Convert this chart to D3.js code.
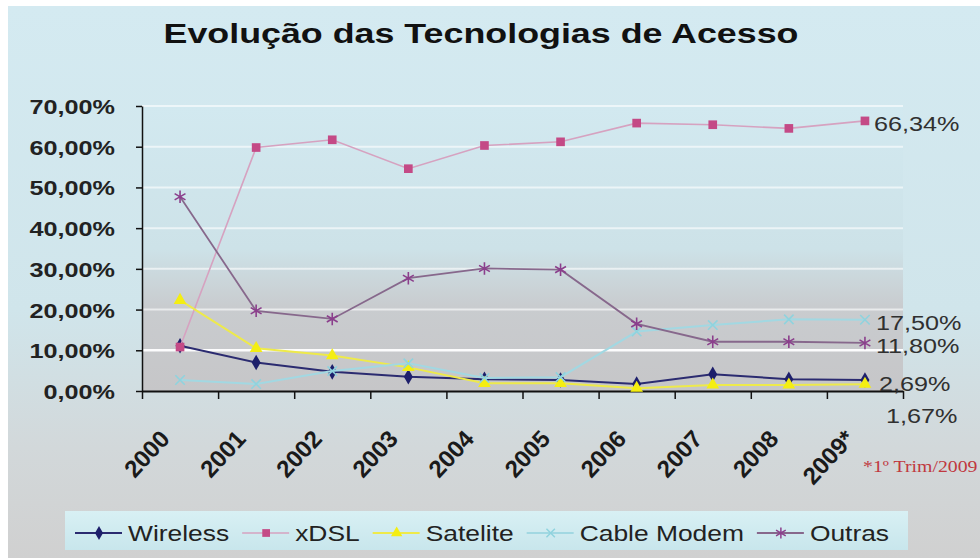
<!DOCTYPE html>
<html lang="pt">
<head>
<meta charset="UTF-8">
<title>Evolução das Tecnologias de Acesso</title>
<script src="https://d3js.org/d3.v7.min.js"></script>
<style>
  body { margin: 0; background: #fff; }
  svg { display: block; font-family: "Liberation Sans", Arial, sans-serif; }
</style>
</head>
<body>
<div id="chart"></div>
<script>
// dados (%)
const years = ["2000", "2001", "2002", "2003", "2004", "2005", "2006", "2007", "2008", "2009*"];
const wireless   = [11.1, 7.0, 4.7, 3.5, 2.9, 2.7, 1.7, 4.1, 2.9, 2.69];
const xdsl       = [10.8, 59.8, 61.7, 54.6, 60.3, 61.2, 65.8, 65.4, 64.5, 66.34];
const satelite   = [22.3, 10.5, 8.7, 5.8, 1.9, 1.9, 0.7, 1.5, 1.5, 1.67];
const cableModem = [2.7, 1.7, 4.9, 6.8, 3.2, 3.4, 14.6, 16.2, 17.6, 17.5];
const outras     = [47.7, 19.7, 17.7, 27.7, 30.1, 29.8, 16.5, 12.1, 12.1, 11.8];
const seriesNames = ["Wireless", "xDSL", "Satelite", "Cable Modem", "Outras"];
const yTicks = [0, 10, 20, 30, 40, 50, 60, 70];

const W = 980, H = 558;
const SX = 1.2; // o original está esticado na horizontal
const plot = { left: 142, right: 903, top: 106, bottom: 391 };

const ptBR = d3.formatLocale({ decimal: ",", thousands: ".", grouping: [3], currency: ["", ""] });
const fmt = v => ptBR.format(".2f")(v) + "%";

const series = [
  { name: seriesNames[0], values: wireless,   line: "#2b2b70", fill: "#1d1f6b", symbol: d3.symbolDiamond,  size: 70, stroke: false, lw: 2 },
  { name: seriesNames[1], values: xdsl,       line: "#d6a2c0", fill: "#c44a86", symbol: d3.symbolSquare,   size: 75, stroke: false, lw: 1.6 },
  { name: seriesNames[2], values: satelite,   line: "#eeea4a", fill: "#f4ee12", symbol: d3.symbolTriangle, size: 70, stroke: false, lw: 2 },
  { name: seriesNames[3], values: cableModem, line: "#a2d8e2", fill: "#8fd3de", symbol: d3.symbolTimes || d3.symbolCross, size: 60, stroke: true, lw: 2 },
  { name: seriesNames[4], values: outras,     line: "#87688c", fill: "#8b3f8c", symbol: d3.symbolAsterisk || d3.symbolCross, size: 110, stroke: true, lw: 1.8 }
];
// posição dos rótulos finais em relação ao último ponto
const labelNudge = {
  "Wireless": [14, 11], "xDSL": [9, 10], "Satelite": [21, 39], "Cable Modem": [11, 10], "Outras": [11, 10]
};

const svg = d3.select("#chart").append("svg")
  .attr("width", W).attr("height", H);

const defs = svg.append("defs");
const bg = defs.append("linearGradient").attr("id", "bg").attr("x1", 0).attr("y1", 0).attr("x2", 0).attr("y2", 1);
[[0, "#d4eaf1"], [0.55, "#d0e5eb"], [0.8, "#d2d8da"], [1, "#d0d0d0"]]
  .forEach(s => bg.append("stop").attr("offset", s[0]).attr("stop-color", s[1]));
const pg = defs.append("linearGradient").attr("id", "pg").attr("x1", 0).attr("y1", 0).attr("x2", 0).attr("y2", 1);
[[0, "#d2e9f0"], [0.5, "#cde2e8"], [0.7, "#c9cccf"], [1, "#c6c6c8"]]
  .forEach(s => pg.append("stop").attr("offset", s[0]).attr("stop-color", s[1]));
const lg = defs.append("linearGradient").attr("id", "lg").attr("x1", 0).attr("y1", 0).attr("x2", 0).attr("y2", 1);
[[0, "#d8f0f4"], [1, "#c8e6ec"]]
  .forEach(s => lg.append("stop").attr("offset", s[0]).attr("stop-color", s[1]));

svg.append("rect").attr("x", 8).attr("y", 6).attr("width", W - 8).attr("height", H - 6).attr("fill", "url(#bg)");

// escalas
const x = d3.scaleBand().domain(years).range([plot.left, plot.right]).padding(0);
const cx = d => x(d) + x.bandwidth() / 2;
const y = d3.scaleLinear().domain([0, 70]).range([plot.bottom, plot.top]);

svg.append("rect")
  .attr("x", plot.left).attr("y", plot.top)
  .attr("width", plot.right - plot.left).attr("height", plot.bottom - plot.top)
  .attr("fill", "url(#pg)");

// linhas de grade
svg.append("g").selectAll("line").data(yTicks.slice(1)).join("line")
  .attr("x1", plot.left).attr("x2", plot.right)
  .attr("y1", d => y(d)).attr("y2", d => y(d))
  .attr("stroke", "#fff")
  .attr("stroke-width", d => d === 10 ? 2.5 : 2)
  .attr("stroke-opacity", d => d === 10 ? 0.95 : 0.6);

// título
svg.append("text")
  .attr("transform", `translate(481,43) scale(1.28,1)`)
  .attr("text-anchor", "middle")
  .attr("font-size", 28).attr("font-weight", "bold").attr("fill", "#111")
  .text("Evolução das Tecnologias de Acesso");

// eixo Y
const yAxis = svg.append("g")
  .attr("transform", `translate(${plot.left},0)`)
  .call(d3.axisLeft(y).tickValues(yTicks).tickSize(6).tickSizeOuter(0).tickFormat(fmt));
yAxis.select(".domain").attr("stroke", "#111").attr("stroke-width", 1.5);
yAxis.selectAll(".tick line").attr("stroke", "#111").attr("stroke-width", 1.5);
yAxis.selectAll(".tick text")
  .attr("x", null).attr("dy", "0.36em")
  .attr("transform", `translate(-27,0) scale(${SX},1)`)
  .attr("font-size", 21).attr("font-weight", "bold").attr("fill", "#222")
  .attr("font-family", "'Liberation Sans', Arial, sans-serif");

// eixo X (marcas nos limites das categorias)
const xEdge = d3.scaleLinear().domain([0, years.length]).range([plot.left, plot.right]);
const xAxis = svg.append("g")
  .attr("transform", `translate(0,${plot.bottom})`)
  .call(d3.axisBottom(xEdge).tickValues(d3.range(years.length + 1)).tickSize(8).tickSizeOuter(0).tickFormat(""));
xAxis.select(".domain").attr("stroke", "#111").attr("stroke-width", 2);
xAxis.selectAll(".tick line").attr("stroke", "#111").attr("stroke-width", 1.5);

svg.append("g").selectAll("text").data(years).join("text")
  .attr("transform", d => `translate(${cx(d) - 9},440) rotate(-47)`)
  .attr("text-anchor", "end")
  .attr("font-size", 24).attr("font-weight", "bold").attr("fill", "#1a1a1a")
  .text(d => d);

// séries
const lineGen = d3.line().x((v, i) => cx(years[i])).y(v => y(v));
series.forEach(s => {
  const g = svg.append("g");
  g.append("path").attr("d", lineGen(s.values))
    .attr("fill", "none").attr("stroke", s.line).attr("stroke-width", s.lw);
  g.selectAll("path.m").data(s.values).join("path").attr("class", "m")
    .attr("transform", (v, i) => `translate(${cx(years[i])},${y(v)})`)
    .attr("d", d3.symbol(s.symbol, s.size))
    .attr("fill", s.stroke ? "none" : s.fill)
    .attr("stroke", s.stroke ? s.fill : "none")
    .attr("stroke-width", 1.6);
});

// rótulos do último ponto
const last = years.length - 1;
svg.append("g").selectAll("text").data(series).join("text")
  .attr("transform", s => `translate(${cx(years[last]) + labelNudge[s.name][0]},${y(s.values[last]) + labelNudge[s.name][1]}) scale(${SX},1)`)
  .attr("font-size", 21).attr("fill", "#303030")
  .text(s => fmt(s.values[last]));

// nota
svg.append("text")
  .attr("transform", `translate(863,472) scale(${SX},1)`)
  .attr("font-family", "'Liberation Serif', 'Times New Roman', serif")
  .attr("font-size", 16.5).attr("fill", "#c0393f")
  .text("*1º Trim/2009");

// legenda
const legend = svg.append("g");
legend.append("rect").attr("x", 65).attr("y", 511).attr("width", 843).attr("height", 39)
  .attr("fill", "url(#lg)");
let lx = 75;
series.forEach(s => {
  const item = legend.append("g").attr("transform", `translate(${lx},533)`);
  item.append("line").attr("x1", 0).attr("x2", 47).attr("y1", 0).attr("y2", 0)
    .attr("stroke", s.line).attr("stroke-width", s.lw);
  item.append("path").attr("transform", "translate(24,0)")
    .attr("d", d3.symbol(s.symbol, s.size * 0.8))
    .attr("fill", s.stroke ? "none" : s.fill)
    .attr("stroke", s.stroke ? s.fill : "none").attr("stroke-width", 1.5);
  const t = item.append("text")
    .attr("transform", `translate(53,8) scale(${SX},1)`)
    .attr("font-size", 22).attr("fill", "#222")
    .text(s.name);
  lx += 53 + t.node().getComputedTextLength() * SX + 13;
});
</script>
</body>
</html>
